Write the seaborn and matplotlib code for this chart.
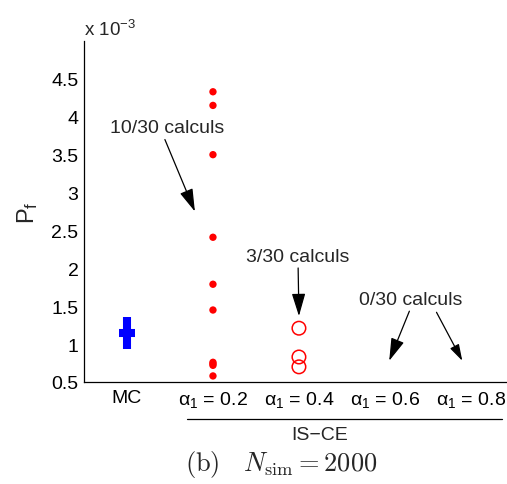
import matplotlib
matplotlib.use("Agg")
import matplotlib.pyplot as plt
import seaborn as sns
import pandas as pd
from matplotlib.lines import Line2D

# ---- data (values in units of 1e-3) ----
categories = ["MC", "α$_{1}$ = 0.2", "α$_{1}$ = 0.4", "α$_{1}$ = 0.6", "α$_{1}$ = 0.8"]
positions = [1, 2, 3, 4, 5]
mc_low, mc_mean, mc_high = 0.934, 1.145, 1.355
alpha02_vals = [4.33, 4.15, 3.50, 2.41, 1.79, 1.45, 0.76, 0.74, 0.72, 0.58]
alpha04_vals = [1.21, 0.83, 0.70]
yticks = [0.5, 1, 1.5, 2, 2.5, 3, 3.5, 4, 4.5]
ytick_labels = ["0.5", "1", "1.5", "2", "2.5", "3", "3.5", "4", "4.5"]

sns.set_style("white")
plt.rcParams['font.family'] = ['Liberation Sans', 'DejaVu Sans']
plt.rcParams['mathtext.fontset'] = 'custom'
plt.rcParams['mathtext.rm'] = 'Liberation Sans'
plt.rcParams['mathtext.it'] = 'Liberation Sans'
plt.rcParams['mathtext.bf'] = 'Liberation Sans:bold'

FS = 14

fig = plt.figure(figsize=(5.07, 4.85), dpi=100)
ax = fig.add_axes([84/507, 1-383/485, 1-84/507, (383-42)/485])

df02 = pd.DataFrame({"x": [positions[1]]*len(alpha02_vals), "y": alpha02_vals})
df04 = pd.DataFrame({"x": [positions[2]]*len(alpha04_vals), "y": alpha04_vals})

sns.scatterplot(data=df02, x="x", y="y", ax=ax, color="red", s=28, edgecolor="none", zorder=3)
sns.scatterplot(data=df04, x="x", y="y", ax=ax, marker="o", s=95, facecolor="none",
                edgecolor="red", linewidth=1.1, zorder=3)

# MC: thick bar and mean marker
ax.plot([positions[0], positions[0]], [mc_low, mc_high], color="blue", lw=5.8, solid_capstyle="butt")
ax.plot([positions[0]], [mc_mean], marker="_", ms=11, mew=5.8, color="blue")

ax.set_xlim(0.5, 5.42)
ax.set_ylim(0.5, 5.0)
ax.set_xticks(positions)
ax.set_xticklabels(categories, fontsize=FS)
ax.set_yticks(yticks)
ax.set_yticklabels(ytick_labels, fontsize=FS)
ax.set_xlabel("")
ax.set_ylabel(r"P$_{\mathrm{f}}$", fontsize=17, labelpad=8)
ax.tick_params(direction="in", length=4, width=0.8, colors="black", pad=4)
ax.tick_params(axis="x", length=3, pad=5)
for s in ["top", "right"]:
    ax.spines[s].set_visible(False)
for s in ["left", "bottom"]:
    ax.spines[s].set_color("black")
    ax.spines[s].set_linewidth(0.9)

fig.text(84/507, 1-30/485, r"x 10$^{-3}$", fontsize=13.5, ha="left", va="center")

arrow = dict(arrowstyle="-|>,head_length=1.0,head_width=0.3", color="black", lw=0.9, shrinkA=0, shrinkB=0)
ax.annotate("10/30 calculs", xy=(1.79, 2.75), xytext=(1.465, 3.855), fontsize=FS,
            ha="center", va="center", arrowprops=dict(arrow, relpos=(0.47, 0.0)))
ax.annotate("3/30 calculs", xy=(3.0, 1.37), xytext=(2.99, 2.16), fontsize=FS,
            ha="center", va="center", arrowprops=dict(arrow, relpos=(0.5, 0.0)))
ax.annotate("0/30 calculs", xy=(4.05, 0.78), xytext=(4.30, 1.59), fontsize=FS,
            ha="center", va="center", arrowprops=dict(arrow, relpos=(0.5, 0.0)))
ax.annotate("", xy=(4.90, 0.78), xytext=(4.60, 1.42), arrowprops=arrow)

fig.add_artist(Line2D([187/507, 502/507], [1-420/485, 1-420/485], color="black", lw=0.9))
fig.text(320/507, 1-436/485, "IS\u2212CE", fontsize=FS, ha="center", va="center")
fig.text(281/507, 1-465/485, r"$\mathrm{(b)}\ \ \ N_{\mathrm{sim}} = 2000$", fontsize=19,
         ha="center", va="center", math_fontfamily="cm")

fig.savefig("out.png", dpi=100)
